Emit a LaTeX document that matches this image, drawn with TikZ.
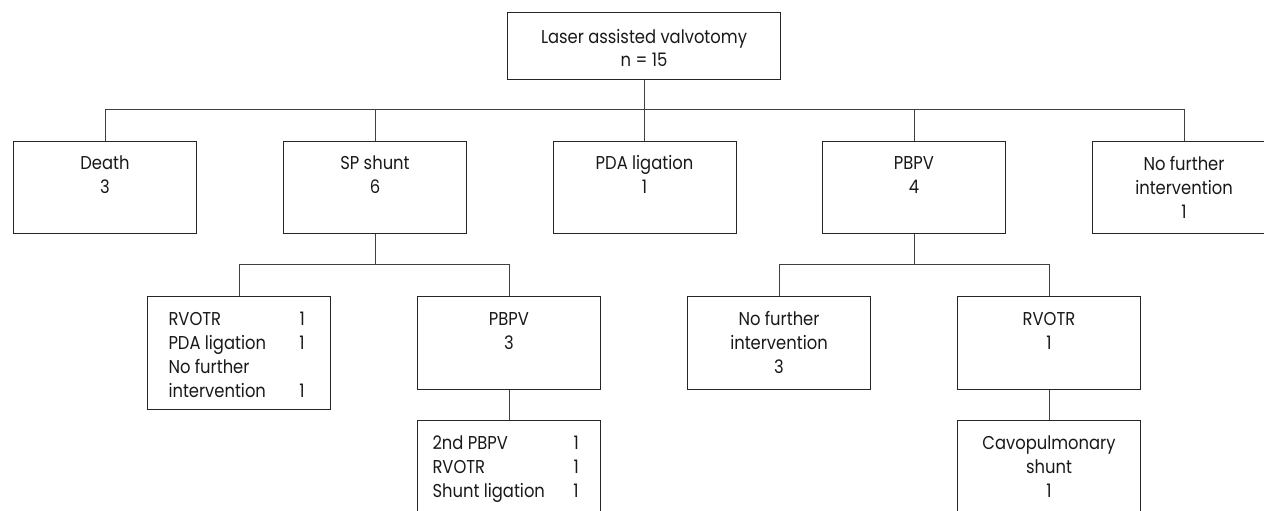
\documentclass[tikz,border=0pt]{standalone}
\usepackage{fontspec}
\setmainfont{Poppins}[FakeStretch=0.88]
\newcommand{\fs}{\fontsize{18.6}{24}\selectfont}
\newcommand{\cbox}[4]{\parbox[t][#2][t]{#1}{\centering\rule{0pt}{#3}#4}}
\newcommand{\lbox}[4]{\parbox[t][#2][t]{#1}{\leftskip=#3\rule{0pt}{28.5pt}#4}}
\tikzset{
  box/.style={draw=black!85, line width=1pt, inner sep=0pt, anchor=north west, font=\fs, text=black!90},
  conn/.style={draw=black!75, line width=0.75pt}
}
\begin{document}
\begin{tikzpicture}[x=1pt,y=-1pt]
\useasboundingbox (0,0) rectangle (1264,511);
% level 0
\node[box] (top) at (507,12) {\cbox{273pt}{67pt}{31pt}{Laser assisted valvotomy\\[-1.4pt] n = 15}};
% level 1
\node[box] (death) at (13,141)   {\cbox{183pt}{92pt}{28pt}{Death\\3}};
\node[box] (sp)    at (283,141)  {\cbox{183pt}{92pt}{28pt}{SP shunt\\6}};
\node[box] (pda)   at (552.5,141){\cbox{183pt}{92pt}{28pt}{PDA ligation\\1}};
\node[box] (pbpv)  at (822,141)  {\cbox{183pt}{92pt}{28pt}{PBPV\\4}};
\node[box] (nfi)   at (1092,141) {\cbox{183pt}{92pt}{29pt}{No further\\intervention\\1}};
% level 2
\node[box] (la) at (147,296) {\lbox{183pt}{113pt}{21pt}{\makebox[131pt][l]{RVOTR}1\\\makebox[131pt][l]{PDA ligation}1\\No further\\\makebox[131pt][l]{intervention}1}};
\node[box] (pb3) at (417,296) {\cbox{183pt}{93pt}{28.5pt}{PBPV\\3}};
\node[box] (nf3) at (687,296) {\cbox{183pt}{93pt}{28.5pt}{No further\\intervention\\3}};
\node[box] (rv1) at (957,296) {\cbox{183pt}{93pt}{28.5pt}{RVOTR\\1}};
% level 3
\node[box] (lb) at (417,420) {\lbox{183pt}{93pt}{15pt}{\makebox[141pt][l]{2nd PBPV}1\\\makebox[141pt][l]{RVOTR}1\\\makebox[141pt][l]{Shunt ligation}1}};
\node[box] (cav) at (957,420) {\cbox{183pt}{93pt}{28.5pt}{Cavopulmonary\\shunt\\1}};
% connectors
\coordinate (b1) at (644,109);
\coordinate (b2) at (0,264);
\draw[conn] (top.south) -- (top.south |- b1);
\draw[conn] (death.north) -- (death.north |- b1) -- (nfi.north |- b1) -- (nfi.north);
\foreach \n in {sp,pda,pbpv} \draw[conn] (\n.north) -- (\n.north |- b1);
\draw[conn] (sp.south) -- (sp.south |- b2);
\draw[conn] (la.north) -- (la.north |- b2) -- (pb3.north |- b2) -- (pb3.north);
\draw[conn] (pbpv.south) -- (pbpv.south |- b2);
\draw[conn] (nf3.north) -- (nf3.north |- b2) -- (rv1.north |- b2) -- (rv1.north);
\draw[conn] (pb3.south) -- (lb.north);
\draw[conn] (rv1.south) -- (cav.north);
\end{tikzpicture}
\end{document}
